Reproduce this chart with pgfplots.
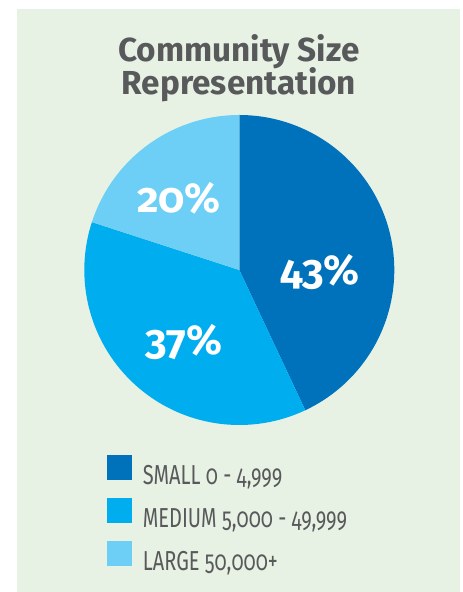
\documentclass[border=0pt]{standalone}
\usepackage{pgfplots}
\pgfplotsset{compat=1.18}
\usepackage{fontspec}
\setmainfont{Fira Sans}[Numbers=OldStyle]
\newfontfamily\legfont{Fira Sans}[FakeStretch=0.73, Numbers=OldStyle]
\definecolor{panel}{RGB}{232,242,228}
\definecolor{titlegray}{RGB}{88,89,91}
\definecolor{cSmall}{RGB}{0,113,187}
\definecolor{cMedium}{RGB}{0,174,239}
\definecolor{cLarge}{RGB}{109,207,246}
% data (percent)
\def\vS{43}
\def\vM{37}
\def\vL{20}
\begin{document}
\begin{tikzpicture}[x=1bp,y=1bp]
\pgfmathsetmacro{\aA}{90}
\pgfmathsetmacro{\aB}{90-3.6*\vS}
\pgfmathsetmacro{\aC}{\aB-3.6*\vM}
\pgfmathsetmacro{\aD}{\aC-3.6*\vL}
\fill[white] (0,0) rectangle (463,592);
\fill[panel] (17,0) rectangle (460,583);
\node[anchor=base, font=\bfseries\fontsize{33.4}{40}\selectfont, text=titlegray, inner sep=0pt] at (239,530) {Community Size};
\node[anchor=base, font=\bfseries\fontsize{33.4}{40}\selectfont, text=titlegray, inner sep=0pt] at (239,497) {Representation};
\begin{axis}[at={(239.3bp,322bp)}, anchor=center, scale only axis,
  width=310bp, height=310bp, xmin=-1, xmax=1, ymin=-1, ymax=1,
  hide axis, clip=false,
  legend image code/.code={\fill[#1] (0bp,-4bp) rectangle (25bp,21bp);},
  legend style={at={(axis description cs:0.073,-0.097)}, anchor=north west,
    draw=none, fill=none, inner sep=0pt, outer sep=0pt,
    row sep=11.5bp, column sep=11bp,
    nodes={inner sep=0pt, text=titlegray},
    font=\legfont\fontsize{27.5}{29}\selectfont},
  legend cell align=left]
\addplot[fill=cSmall, draw=none, variable=\t, domain=\aB:\aA, samples=120] ({cos(\t)},{sin(\t)}) -- (axis cs:0,0) -- cycle;
\addlegendentry{SMALL 0 - 4,999}
\addplot[fill=cMedium, draw=none, variable=\t, domain=\aC:\aB, samples=120] ({cos(\t)},{sin(\t)}) -- (axis cs:0,0) -- cycle;
\addlegendentry{MEDIUM 5,000 - 49,999}
\addplot[fill=cLarge, draw=none, variable=\t, domain=\aD:\aC, samples=80] ({cos(\t)},{sin(\t)}) -- (axis cs:0,0) -- cycle;
\addlegendentry{LARGE 50,000+}
\node[font=\bfseries\fontsize{42}{44}\selectfont, text=white] at (axis cs:0.52,-0.01) {43\%};
\node[font=\bfseries\fontsize{42}{44}\selectfont, text=white] at (axis cs:-0.357,-0.465) {37\%};
\node[font=\bfseries\fontsize{42}{44}\selectfont, text=white] at (axis cs:-0.389,0.465) {20\%};
\end{axis}
\end{tikzpicture}
\end{document}
